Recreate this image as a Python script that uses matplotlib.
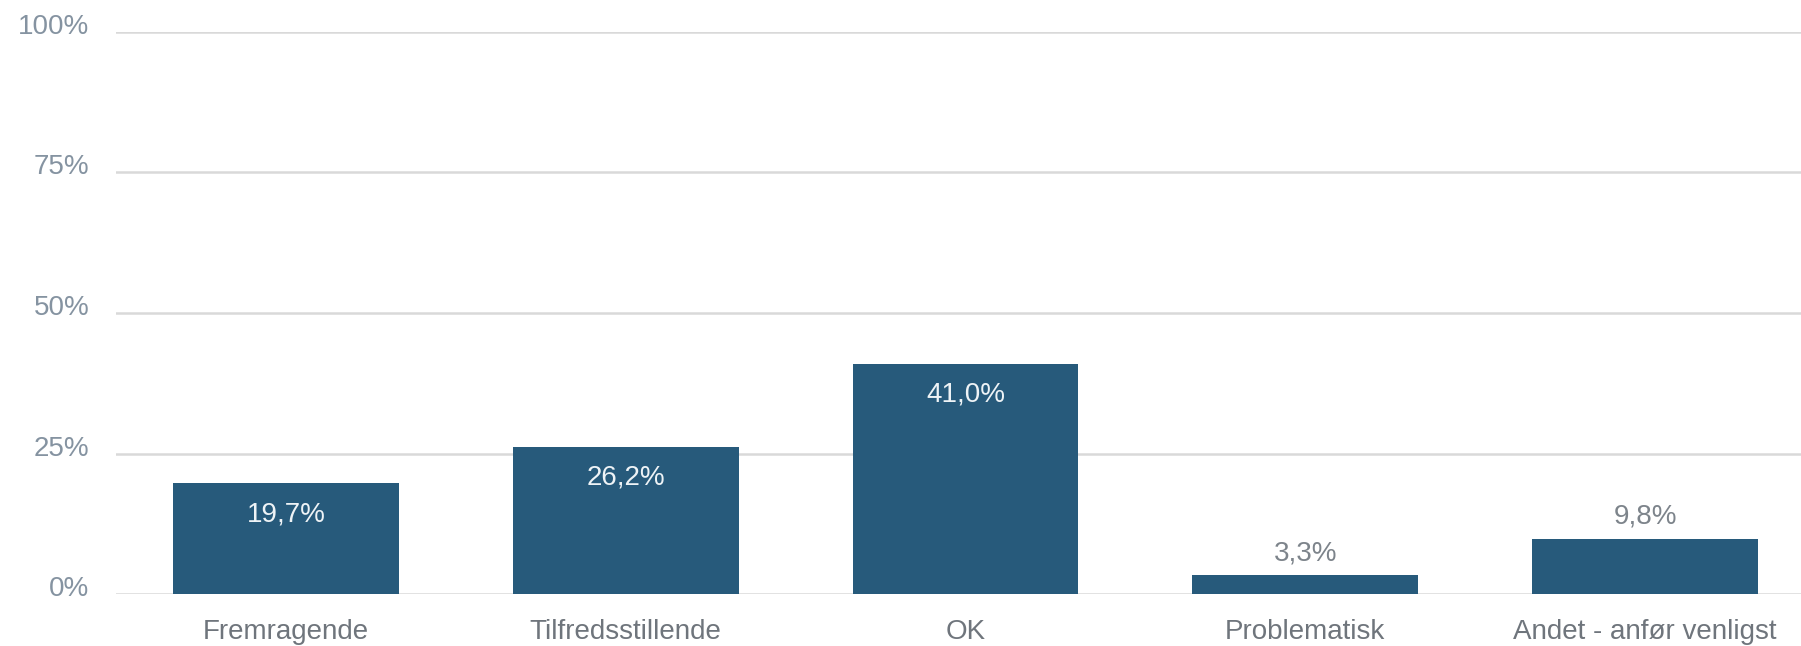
import matplotlib
matplotlib.use("Agg")
import matplotlib.pyplot as plt
from matplotlib.transforms import ScaledTranslation

categories = ["Fremragende", "Tilfredsstillende", "OK", "Problematisk", "Andet - anfør venligst"]
values = [19.7, 26.2, 41.0, 3.3, 9.8]
value_labels = ["19,7%", "26,2%", "41,0%", "3,3%", "9,8%"]
yticks = [0, 25, 50, 75, 100]
ytick_labels = ["0%", "25%", "50%", "75%", "100%"]

plt.rcParams['font.family'] = ['Liberation Sans', 'DejaVu Sans']

W, H = 1801, 646
fig = plt.figure(figsize=(W / 100, H / 100), dpi=100)
left_px, right_px = 116, 1815
bottom_px, top_px = 594, 32
ax = fig.add_axes([left_px / W, (H - bottom_px) / H, (right_px - left_px) / W, (bottom_px - top_px) / H])

bar_color = "#275a7b"
x = list(range(len(categories)))
ax.bar(x, values, width=0.665, color=bar_color, zorder=3)
ax.set_xlim(-0.5, len(categories) - 0.5)
ax.set_ylim(0, 100)

ax.set_yticks(yticks)
ax.set_yticklabels(ytick_labels)
ax.yaxis.grid(True, color="#d9d9d9", linewidth=1.8, zorder=0)
ax.set_axisbelow(True)
for s in ax.spines.values():
    s.set_visible(False)
ax.tick_params(axis="y", length=0, pad=19, labelsize=20, labelcolor="#8593a1")
ax.tick_params(axis="x", length=0, pad=18, labelsize=20, labelcolor="#6f757c")
ax.set_xticks(x)
ax.set_xticklabels(categories)
off = ScaledTranslation(0, 8 / 100, fig.dpi_scale_trans)
for lbl in ax.get_yticklabels():
    lbl.set_transform(lbl.get_transform() + off)

for xi, v, lab in zip(x, values, value_labels):
    if v >= 15:
        ax.annotate(lab, (xi, v), xytext=(0, -31), textcoords="offset pixels",
                    ha="center", va="center", color="#eef3f6", fontsize=20)
    else:
        ax.annotate(lab, (xi, v), xytext=(0, 22), textcoords="offset pixels",
                    ha="center", va="center", color="#7d848b", fontsize=20)

fig.savefig("out.png", dpi=100)
